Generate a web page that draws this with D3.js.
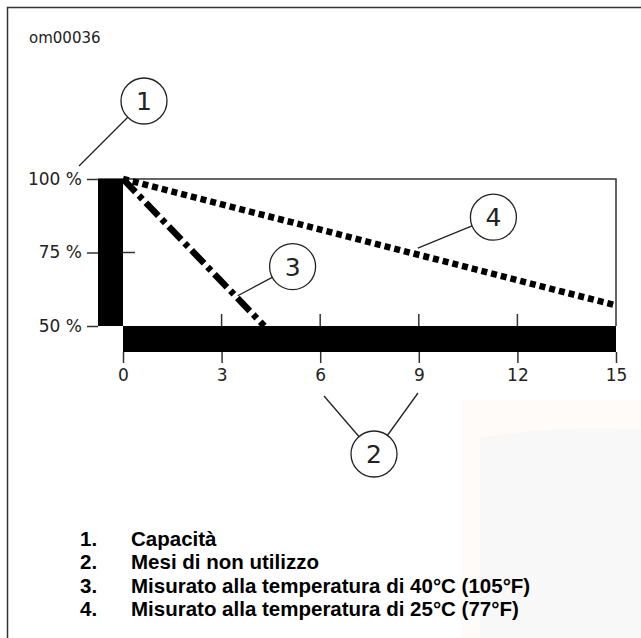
<!DOCTYPE html>
<html><head><meta charset="utf-8">
<script src="https://cdn.jsdelivr.net/npm/d3@7"></script>
<style>body{margin:0;background:#fff}svg{display:block}</style>
</head><body>
<svg id="c" width="641" height="638"></svg>
<script>
// ---- data ----
const monthTicks = [0, 3, 6, 9, 12, 15];
const capacityTicks = [50, 75, 100];
const capacityLabels = ["50 %", "75 %", "100 %"];
const months40 = [0, 4.3];
const capacity40 = [100, 50];
const months25 = [0, 15];
const capacity25 = [100, 57];
const legendNums = ["1.", "2.", "3.", "4."];
const legendTexts = ["Capacità", "Mesi di non utilizzo", "Misurato alla temperatura di 40°C (105°F)", "Misurato alla temperatura di 25°C (77°F)"];
const figureId = "om00036";

const svg = d3.select("#c");
const x = d3.scaleLinear().domain([0, 15]).range([123, 616]);
const y = d3.scaleLinear().domain([50, 100]).range([326, 179]);
const ink = "#222";
const font = "DejaVu Sans";

// faint watermark background
svg.append("rect").attr("x", 461).attr("y", 400).attr("width", 180).attr("height", 238).attr("fill", "#fefbf8");
svg.append("path").attr("d", "M480,438 Q560,425 641,430 L641,638 L480,638 Z").attr("fill", "#f8f8f8");

// outer frame
svg.append("path").attr("d", "M7.5,638 L7.5,7.5 L641,7.5").attr("fill", "none").attr("stroke", "#333").attr("stroke-width", 1.5);

svg.append("text").attr("x", 29).attr("y", 43).attr("font-family", font).attr("font-size", 15).attr("fill", ink).text(figureId);

// plot frame
svg.append("path").attr("d", `M${x(0)-25},${y(100)} L${x(15)},${y(100)} L${x(15)},${y(50)}`)
  .attr("fill", "none").attr("stroke", "#333").attr("stroke-width", 1.5);

// thick axis bars
svg.append("rect").attr("x", x(0) - 25).attr("y", y(100)).attr("width", 25).attr("height", y(50) - y(100)).attr("fill", "#000");
svg.append("rect").attr("x", x(0)).attr("y", y(50)).attr("width", x(15) - x(0)).attr("height", 26).attr("fill", "#000");

// y axis
const yAxis = d3.axisLeft(y).tickValues(capacityTicks).tickSize(11).tickPadding(5)
  .tickFormat((d, i) => capacityLabels[i]);
const ya = svg.append("g").attr("transform", `translate(${x(0) - 25},0)`).call(yAxis);
ya.select(".domain").remove();
ya.selectAll("line").attr("stroke", "#333").attr("stroke-width", 1.5);
ya.selectAll("text").attr("font-family", font).attr("font-size", 17).attr("fill", ink);
// inner tick at 75%
svg.append("line").attr("x1", x(0)).attr("x2", x(0) + 12).attr("y1", y(75)).attr("y2", y(75)).attr("stroke", "#333").attr("stroke-width", 1.5);

// x axis (below bar)
const xAxis = d3.axisBottom(x).tickValues(monthTicks).tickSize(11).tickPadding(6);
const xa = svg.append("g").attr("transform", `translate(0,${y(50) + 26})`).call(xAxis);
xa.select(".domain").remove();
xa.selectAll("line").attr("stroke", "#333").attr("stroke-width", 1.5);
xa.selectAll("text").attr("font-family", font).attr("font-size", 17).attr("fill", ink);
// upper ticks inside plot
svg.append("g").selectAll("line").data(monthTicks.slice(1, 5)).join("line")
  .attr("x1", d => x(d)).attr("x2", d => x(d)).attr("y1", y(50) - 12).attr("y2", y(50))
  .attr("stroke", "#333").attr("stroke-width", 1.5);

// series
const line = d3.line().x(d => x(d[0])).y(d => y(d[1]));
svg.append("path").datum(months25.map((m, i) => [m, capacity25[i]])).attr("d", line)
  .attr("fill", "none").attr("stroke", "#000").attr("stroke-width", 6.5).attr("stroke-dasharray", "6,4");
svg.append("path").datum(months40.map((m, i) => [m, capacity40[i]])).attr("d", line)
  .attr("fill", "none").attr("stroke", "#000").attr("stroke-width", 6.5).attr("stroke-dasharray", "18,5,5,5");

// callouts
function callout(cx, cy, label, leaders) {
  leaders.forEach(l => svg.append("line").attr("x1", l[0]).attr("y1", l[1]).attr("x2", l[2]).attr("y2", l[3])
    .attr("stroke", "#222").attr("stroke-width", 1.3));
  svg.append("circle").attr("cx", cx).attr("cy", cy).attr("r", 23).attr("fill", "#fff").attr("stroke", "#222").attr("stroke-width", 1.3);
  svg.append("text").attr("x", cx).attr("y", cy + 9).attr("text-anchor", "middle").attr("font-family", font).attr("font-size", 25).attr("fill", ink).text(label);
}
callout(144, 101, "1", [[144, 101, 79, 166]]);
callout(374, 454, "2", [[374, 454, 324, 396], [374, 454, 418, 393]]);
callout(x(5.16), y(70.2), "3", [[x(5.16), y(70.2), x(3.49), y(60.3)]]);
callout(x(11.27), y(87), "4", [[x(11.27), y(87), x(8.97), y(76.5)]]);

// legend
const lg = svg.append("g");
legendNums.forEach((n, i) => {
  const yy = 546 + i * 23.3;
  lg.append("text").attr("x", 80).attr("y", yy).attr("font-family", "Liberation Sans, Arial").attr("font-weight", "bold").attr("font-size", 20.5).attr("fill", "#000").text(n);
  lg.append("text").attr("x", 131).attr("y", yy).attr("font-family", "Liberation Sans, Arial").attr("font-weight", "bold").attr("font-size", 20.5).attr("fill", "#000").text(legendTexts[i]);
});
</script>
</body></html>
